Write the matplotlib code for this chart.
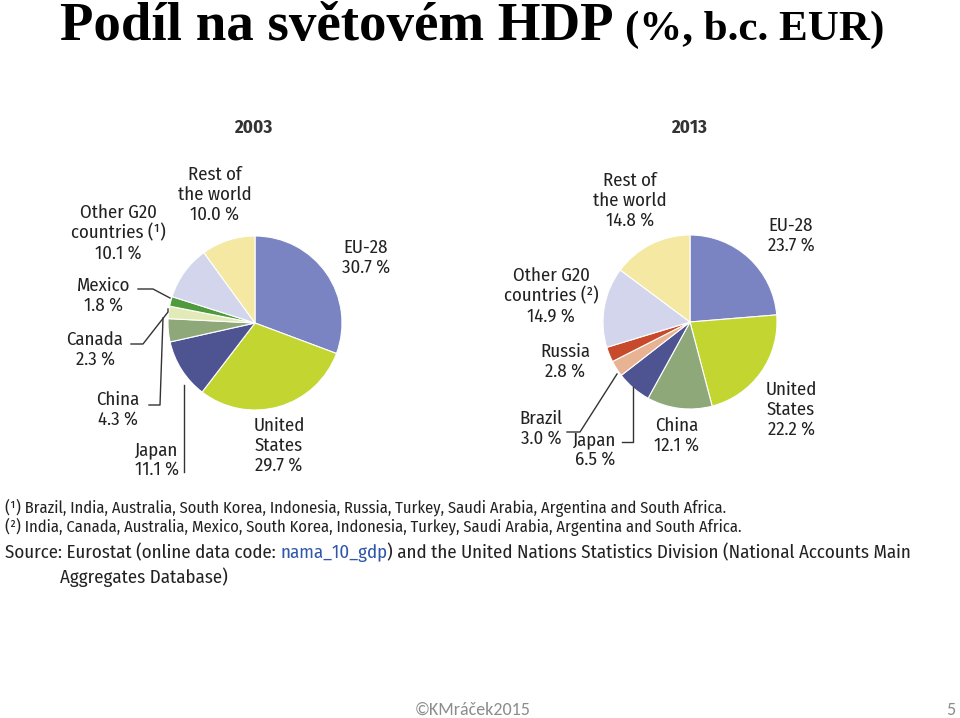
import matplotlib
matplotlib.use('Agg')
import matplotlib.pyplot as plt
from matplotlib.transforms import IdentityTransform

# data
labels_2003 = ['EU-28', 'United States', 'Japan', 'China', 'Canada', 'Mexico',
               'Other G20 countries', 'Rest of the world']
share_2003 = [30.7, 29.7, 11.1, 4.3, 2.3, 1.8, 10.1, 10.0]
colors_2003 = ['#7b84c2', '#c3d530', '#4e5391', '#8ea87a', '#e2ebb8', '#4f9a3c',
               '#d3d5ec', '#f5e8a2']

labels_2013 = ['EU-28', 'United States', 'China', 'Japan', 'Brazil', 'Russia',
               'Other G20 countries', 'Rest of the world']
share_2013 = [23.7, 22.2, 12.1, 6.5, 3.0, 2.8, 14.9, 14.8]
colors_2013 = ['#7b84c2', '#c3d530', '#8ea87a', '#4e5391', '#e8b393', '#c84a2c',
               '#d3d5ec', '#f5e8a2']

narrow = ['Fira Sans Condensed', 'DejaVu Sans']
serif = ['Liberation Serif', 'DejaVu Serif']
footer = ['Carlito', 'DejaVu Sans']

fig = plt.figure(figsize=(9.6, 7.18), dpi=100)
ax = fig.add_axes([0, 0, 1, 1])

# y axis is flipped below, so startangle -90 / counterclock=True runs clockwise from the top
ax.pie(share_2003, colors=colors_2003, center=(255, 323), radius=87,
       startangle=-90, counterclock=True,
       wedgeprops=dict(edgecolor='white', linewidth=0.8))
ax.pie(share_2013, colors=colors_2013, center=(690, 322), radius=87,
       startangle=-90, counterclock=True,
       wedgeprops=dict(edgecolor='white', linewidth=0.8))
ax.set_xlim(0, 960)
ax.set_ylim(718, 0)
ax.set_aspect('equal')
ax.axis('off')

def lab(x, y, s, ha='center'):
    ax.text(x, y, s, ha=ha, va='center', fontsize=13.5, family=narrow,
            color='#222222', linespacing=1.15)

def fmt(v):
    return '%.1f %%' % v

# 2003 labels
ax.text(253, 128, '2003', ha='center', va='center', fontsize=13.5,
        family=narrow, fontweight='bold', color='#333333')
lab(366, 258, 'EU-28\n' + fmt(share_2003[0]))
lab(279, 446, 'United\nStates\n' + fmt(share_2003[1]))
lab(157, 460, 'Japan\n' + fmt(share_2003[2]))
lab(118, 410, 'China\n' + fmt(share_2003[3]))
lab(95, 350, 'Canada\n' + fmt(share_2003[4]))
lab(104, 296, 'Mexico\n' + fmt(share_2003[5]))
lab(118, 233, 'Other G20\ncountries (\u00b9)\n' + fmt(share_2003[6]))
lab(215, 195, 'Rest of\nthe world\n' + fmt(share_2003[7]))

# 2013 labels
ax.text(689, 128, '2013', ha='center', va='center', fontsize=13.5,
        family=narrow, fontweight='bold', color='#333333')
lab(791, 236, 'EU-28\n' + fmt(share_2013[0]))
lab(791, 410, 'United\nStates\n' + fmt(share_2013[1]))
lab(677, 436, 'China\n' + fmt(share_2013[2]))
lab(595, 450, 'Japan\n' + fmt(share_2013[3]))
lab(541, 429, 'Brazil\n' + fmt(share_2013[4]))
lab(565, 362, 'Russia\n' + fmt(share_2013[5]))
lab(551, 296, 'Other G20\ncountries (\u00b2)\n' + fmt(share_2013[6]))
lab(630, 201, 'Rest of\nthe world\n' + fmt(share_2013[7]))

# leader lines
lk = dict(color='#333333', linewidth=1.0)
ax.plot([138, 153, 170], [289, 289, 298], **lk)
ax.plot([131, 143, 168, 168], [344, 344, 312, 309], **lk)
ax.plot([149, 160, 163], [405, 405, 318], **lk)
ax.plot([184, 184], [472, 385], **lk)
ax.plot([567, 580, 617], [432, 432, 374], **lk)
ax.plot([622, 633, 633], [442, 442, 387], **lk)

# footnotes
fn = dict(fontsize=11.85, family=narrow, color='#222222', va='center', ha='left')
ax.text(5, 508, '(\u00b9) Brazil, India, Australia, South Korea, Indonesia, Russia, Turkey, '
        'Saudi Arabia, Argentina and South Africa.', **fn)
ax.text(5, 527, '(\u00b2) India, Canada, Australia, Mexico, South Korea, Indonesia, Turkey, '
        'Saudi Arabia, Argentina and South Africa.', **fn)
src = dict(fn, fontsize=13.6)
t1 = ax.text(5, 553, 'Source: Eurostat (online data code: ', **src)
fig.canvas.draw()
r = fig.canvas.get_renderer()
x2 = t1.get_window_extent(r).x1
t2 = ax.text(x2, 718 - 553, 'nama_10_gdp', transform=IdentityTransform(),
             **dict(src, color='#2f56a8'))
x3 = t2.get_window_extent(r).x1
ax.text(x3, 718 - 553, ') and the United Nations Statistics Division (National Accounts Main',
        transform=IdentityTransform(), **src)
ax.text(60, 577, 'Aggregates Database)', **src)

# title
ax.text(60, 40, 'Podíl na světovém HDP', fontsize=39.5, fontweight='bold',
        family=serif, va='baseline', ha='left')
ax.text(625, 40, '(%, b.c. EUR)', fontsize=31, fontweight='bold',
        family=serif, va='baseline', ha='left')

# footer
ax.text(473, 710, '©KMráček2015', fontsize=13, family=footer,
        color='#8c8c8c', ha='center', va='center')
ax.text(955, 710, '5', fontsize=13, family=footer,
        color='#8c8c8c', ha='right', va='center')

fig.savefig('out.png', dpi=100)
